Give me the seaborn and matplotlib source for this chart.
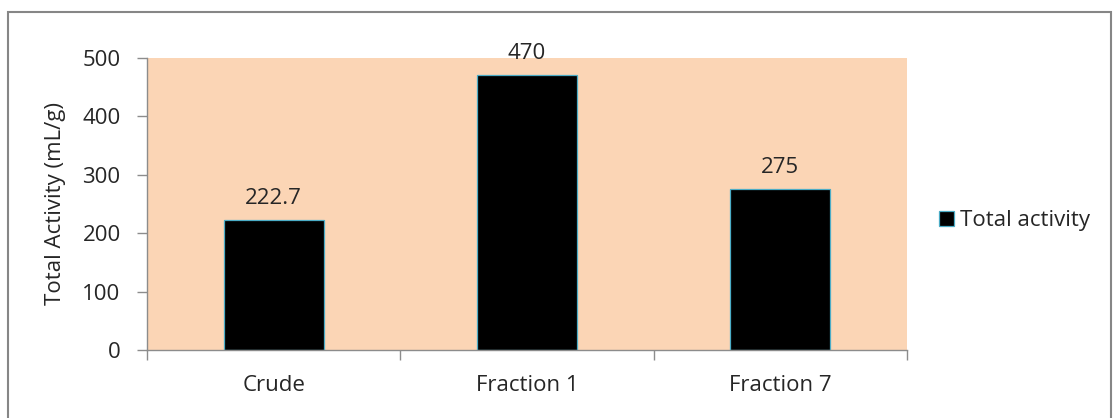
import matplotlib
matplotlib.use("Agg")
import matplotlib.pyplot as plt
import matplotlib.patches as mpatches
import seaborn as sns
import pandas as pd

categories = ["Crude", "Fraction 1", "Fraction 7"]
total_activity = [222.7, 470, 275]
value_labels = ["222.7", "470", "275"]
series_name = "Total activity"
y_ticks = [0, 100, 200, 300, 400, 500]

sns.set_theme(style="white")
plt.rcParams["font.family"] = ["Open Sans", "DejaVu Sans"]

FS = 16
TXT = "#262626"

df = pd.DataFrame({"Sample": categories, "Activity": total_activity})

fig = plt.figure(figsize=(11.13, 4.18), dpi=100)
ax = fig.add_axes([0.1321, 0.1627, 0.6828, 0.6986])
ax.set_facecolor("#FBD5B5")

sns.barplot(data=df, x="Sample", y="Activity", color="black", width=0.395,
            edgecolor="#4BACC6", linewidth=0.9, saturation=1, ax=ax)

for patch, lab in zip(ax.patches, value_labels):
    ax.annotate(lab, (patch.get_x() + patch.get_width() / 2, patch.get_height()),
                xytext=(0, 8), textcoords="offset points", ha="center", va="bottom",
                fontsize=FS, color=TXT)

ax.set_ylim(0, 500)
ax.set_xlim(-0.5, 2.5)
ax.set_yticks(y_ticks)
ax.set_ylabel("Total Activity (mL/g)", fontsize=FS, color=TXT, labelpad=12)
ax.set_xlabel("")

for side in ["top", "right"]:
    ax.spines[side].set_visible(False)
for side in ["left", "bottom"]:
    ax.spines[side].set_color("#8C8C8C")
    ax.spines[side].set_linewidth(1.0)

ax.tick_params(axis="y", which="major", direction="out", length=7, width=1,
               color="#8C8C8C", labelsize=FS, labelcolor=TXT, left=True, pad=12)
ax.tick_params(axis="x", which="major", length=0, labelsize=FS,
               labelcolor=TXT, pad=18)
ax.set_xticks([-0.5, 0.5, 1.5, 2.5], minor=True)
ax.tick_params(axis="x", which="minor", direction="out", length=7, width=1,
               color="#8C8C8C", bottom=True)

handle = mpatches.Patch(facecolor="black", edgecolor="#4BACC6", linewidth=0.9,
                        label=series_name)
fig.legend(handles=[handle], loc="center left", bbox_to_anchor=(0.826, 0.472),
           frameon=False, fontsize=FS, handlelength=0.65, handleheight=0.65,
           handletextpad=0.3, labelcolor=TXT)

# Chart outline
fig.patches.append(mpatches.Rectangle((8 / 1113, -0.05), 1103 / 1113, 1.05 - 12 / 418,
                                      transform=fig.transFigure, fill=False,
                                      edgecolor="#868686", linewidth=1.5))

fig.savefig("out.png", dpi=100, facecolor="white")
